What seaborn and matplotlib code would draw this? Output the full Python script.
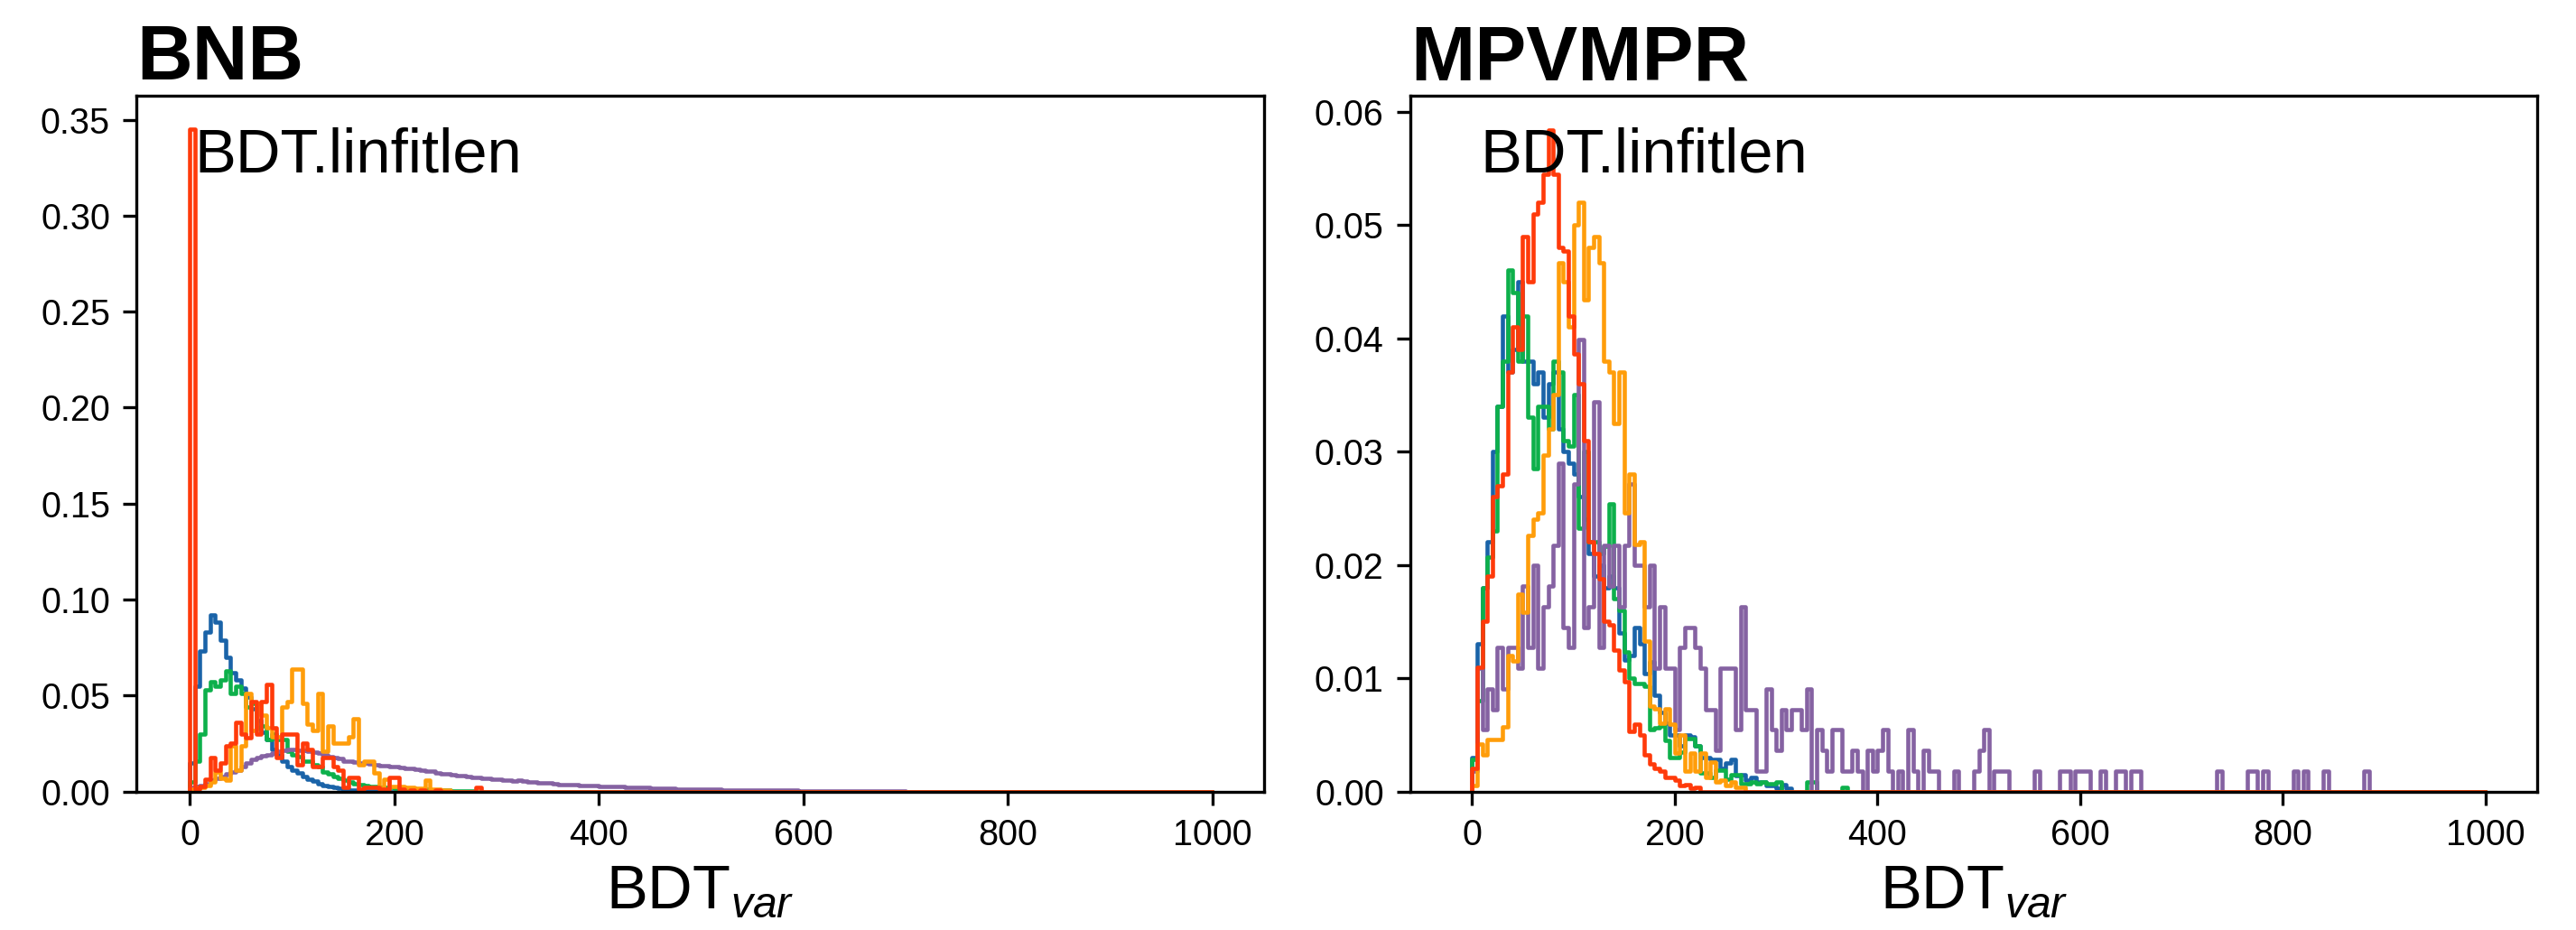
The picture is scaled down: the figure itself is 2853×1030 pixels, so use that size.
import numpy as np
import matplotlib
matplotlib.use("Agg")
import matplotlib.pyplot as plt
import seaborn as sns

# bin edges used by both panels (5-unit bins from 0 to 1000)
bin_width = 5
n_bins = 200

series_names = ["blue", "green", "purple", "orange", "red"]
colors = {"blue": "#1a63a8", "green": "#0db04b", "purple": "#8562a2",
          "orange": "#ff9d0a", "red": "#ff3a0a"}

# ---- BNB panel: fraction of entries per 5-unit bin, starting at 0 ----
bnb_blue = [0.015, 0.055, 0.073, 0.083, 0.092, 0.088, 0.079, 0.070, 0.062, 0.058,
            0.054, 0.049, 0.043, 0.037, 0.031, 0.027, 0.022, 0.019, 0.016, 0.013,
            0.011, 0.0095, 0.008, 0.0065, 0.0052, 0.0042, 0.0033, 0.0026, 0.002, 0.0015,
            0.0011, 0.0008, 0.0006, 0.0004, 0.0003, 0.0002, 0.0001]
bnb_green = [0.005, 0.016, 0.030, 0.053, 0.057, 0.055, 0.058, 0.063, 0.051, 0.055,
             0.051, 0.044, 0.046, 0.033, 0.034, 0.027, 0.030, 0.027, 0.027, 0.021,
             0.019, 0.018, 0.016, 0.016, 0.014, 0.013, 0.010, 0.009, 0.008, 0.007,
             0.006, 0.005, 0.004, 0.0035, 0.003, 0.0025, 0.0025, 0.002, 0.002, 0.002,
             0.0017, 0.0015, 0.0015, 0.0012, 0.0012, 0.001, 0.001, 0.0008, 0.0006, 0.0006,
             0.0005, 0.0004, 0.0004, 0.0003, 0.0003, 0.0002]
bnb_orange = [0.001, 0.0017, 0.002, 0.003, 0.005, 0.010, 0.007, 0.006, 0.024, 0.011,
              0.024, 0.051, 0.032, 0.046, 0.040, 0.033, 0.0285, 0.0285, 0.044, 0.047,
              0.064, 0.064, 0.046, 0.035, 0.032, 0.051, 0.021, 0.034, 0.025, 0.025,
              0.025, 0.0285, 0.038, 0.014, 0.016, 0.016, 0.0096, 0.0017, 0.0065, 0.0025,
              0.0025, 0.0025, 0.002, 0.002, 0.0017, 0.0017, 0.006, 0.001, 0.001, 0.0005,
              0.0005]
bnb_red = [0.345, 0.001, 0.0025, 0.0065, 0.0175, 0.011, 0.015, 0.024, 0.025, 0.036,
           0.030, 0.028, 0.047, 0.030, 0.047, 0.056, 0.033, 0.0175, 0.030, 0.030,
           0.030, 0.014, 0.025, 0.022, 0.013, 0.013, 0.0175, 0.0175, 0.013, 0.011,
           0.002, 0.0073, 0.0073, 0.001, 0.002, 0.002, 0.002, 0.001, 0.001, 0.0073,
           0.0073, 0.001, 0.0, 0.0005, 0.0, 0.0005, 0.0, 0.0, 0.0005, 0.0,
           0.0, 0.0, 0.0, 0.0, 0.0, 0.0, 0.002]
bnb_purple = [0.002, 0.0025, 0.003, 0.004, 0.006, 0.007, 0.008, 0.009, 0.010, 0.011,
              0.013, 0.015, 0.0165, 0.0175, 0.0185, 0.019, 0.020, 0.021, 0.0215, 0.022,
              0.022, 0.0215, 0.0215, 0.021, 0.0205, 0.020, 0.019, 0.018, 0.0175, 0.017,
              0.016, 0.0158, 0.0155, 0.015, 0.015, 0.0145, 0.014, 0.0135, 0.0135, 0.013,
              0.0128, 0.0125, 0.012, 0.0122, 0.0115, 0.011, 0.0108, 0.0105, 0.0098, 0.0094,
              0.009, 0.0085, 0.0084, 0.0082, 0.0078, 0.0075, 0.0072, 0.007, 0.0068, 0.0065,
              0.0062, 0.006, 0.0058, 0.0056, 0.0057, 0.0052, 0.005, 0.0048, 0.0046, 0.0045,
              0.0044, 0.0038, 0.0036, 0.0035, 0.0037, 0.0034, 0.0033, 0.0032, 0.003, 0.0029,
              0.0028, 0.0027, 0.0025, 0.0024, 0.0024, 0.0023, 0.0022, 0.0021, 0.002, 0.0019,
              0.0017, 0.0017, 0.0016, 0.0015, 0.0015, 0.0014, 0.0013, 0.0013, 0.0012, 0.0012,
              0.0011, 0.0011, 0.001, 0.001, 0.0009, 0.0009, 0.0009, 0.0008, 0.0008, 0.0008,
              0.0007, 0.0007, 0.0007, 0.0006, 0.0006, 0.0006, 0.0005, 0.0005, 0.0005, 0.0004,
              0.0004, 0.0004, 0.0003, 0.0003, 0.0003, 0.0003, 0.0002, 0.0002, 0.0002, 0.0002,
              0.0002, 0.0001, 0.0001, 0.0001, 0.0001, 0.0001, 0.0001, 0.0001, 0.0001, 0.0001]

# ---- MPVMPR panel ----
mpv_blue = [0.003, 0.013, 0.018, 0.022, 0.030, 0.034, 0.042, 0.037, 0.039, 0.045,
            0.038, 0.038, 0.036, 0.037, 0.033, 0.036, 0.037, 0.032, 0.030, 0.029,
            0.028, 0.026, 0.024, 0.021, 0.019, 0.020, 0.018, 0.019, 0.018, 0.014,
            0.0116, 0.012, 0.0145, 0.013, 0.0104, 0.0114, 0.0085, 0.007, 0.006, 0.005,
            0.005, 0.004, 0.005, 0.0048, 0.004, 0.003, 0.003, 0.0028, 0.0028, 0.002,
            0.0025, 0.0028, 0.0014, 0.0015, 0.001, 0.0012, 0.0008, 0.0008, 0.0005, 0.0005,
            0.0003, 0.0006, 0.0003]
mpv_green = [0.0028, 0.008, 0.018, 0.0207, 0.023, 0.034, 0.038, 0.046, 0.044, 0.038,
             0.042, 0.033, 0.0285, 0.034, 0.034, 0.032, 0.038, 0.037, 0.031, 0.0305,
             0.035, 0.0232, 0.030, 0.022, 0.022, 0.021, 0.0216, 0.0254, 0.017, 0.016,
             0.0123, 0.010, 0.0095, 0.0095, 0.0093, 0.0055, 0.0056, 0.0058, 0.0045, 0.003,
             0.003, 0.0035, 0.0047, 0.0047, 0.004, 0.0016, 0.0016, 0.0012, 0.0019, 0.0019,
             0.0011, 0.0015, 0.0015, 0.0007, 0.0007, 0.0008, 0.0007, 0.0008, 0.0007, 0.0007,
             0.0008, 0.0, 0.0, 0.0, 0.0, 0.0, 0.0008, 0.0008, 0.0, 0.0,
             0.0, 0.0, 0.0, 0.0004]
mpv_orange = [0.0005, 0.0042, 0.0032, 0.0046, 0.0046, 0.0046, 0.0057, 0.012, 0.0115, 0.0174,
              0.0158, 0.0226, 0.024, 0.0246, 0.0297, 0.032, 0.035, 0.0467, 0.045, 0.041,
              0.050, 0.052, 0.0434, 0.048, 0.049, 0.0467, 0.038, 0.037, 0.0325, 0.037,
              0.0246, 0.028, 0.0218, 0.022, 0.0133, 0.0075, 0.0073, 0.006, 0.0073, 0.0059,
              0.0034, 0.005, 0.0018, 0.0034, 0.0018, 0.0034, 0.0012, 0.0026, 0.0008, 0.001,
              0.0005, 0.0008, 0.0004, 0.0004]
mpv_red = [0.002, 0.011, 0.015, 0.019, 0.026, 0.027, 0.028, 0.037, 0.041, 0.039,
           0.049, 0.045, 0.051, 0.052, 0.0545, 0.0584, 0.0545, 0.048, 0.0477, 0.042,
           0.0386, 0.036, 0.031, 0.022, 0.021, 0.0188, 0.015, 0.0147, 0.0125, 0.0107,
           0.0097, 0.0053, 0.0059, 0.005, 0.0032, 0.0024, 0.002, 0.0018, 0.0012, 0.0012,
           0.001, 0.0005, 0.0006, 0.0003, 0.0004]
# purple MPVMPR sample is small: raw entries per bin, normalised below
mpv_purple_counts = [1, 6, 3, 5, 4, 7, 5, 7, 7, 6,
                     10, 7, 11, 6, 9, 10, 12, 16, 8, 7,
                     15, 22, 8, 9, 19, 7, 12, 10, 12, 9,
                     12, 15, 11, 11, 9, 11, 6, 9, 6, 6,
                     3, 7, 8, 8, 7, 6, 4, 4, 2, 6,
                     6, 6, 3, 9, 4, 4, 1, 1, 5, 3,
                     2, 4, 3, 4, 4, 3, 5, 0, 3, 2,
                     1, 3, 3, 1, 1, 2, 1, 0, 2, 1,
                     2, 3, 1, 0, 1, 0, 3, 1, 0, 2,
                     1, 1, 0, 0, 0, 1, 0, 0, 0, 1,
                     2, 3, 0, 1, 1, 1, 0, 0, 0, 0,
                     0, 1, 0, 0, 0, 0, 1, 1, 0, 1,
                     1, 1, 0, 0, 1, 0, 0, 1, 1, 0,
                     1, 1, 0, 0, 0, 0, 0, 0, 0, 0,
                     0, 0, 0, 0, 0, 0, 0, 1, 0, 0,
                     0, 0, 0, 1, 1, 0, 1, 0, 0, 0,
                     0, 0, 1, 0, 1, 0, 0, 0, 1, 0,
                     0, 0, 0, 0, 0, 0, 1]
mpv_purple = list(np.array(mpv_purple_counts) / np.sum(mpv_purple_counts))

panels = [
    ("BNB", {"blue": bnb_blue, "green": bnb_green, "purple": bnb_purple,
             "orange": bnb_orange, "red": bnb_red}),
    ("MPVMPR", {"blue": mpv_blue, "green": mpv_green, "purple": mpv_purple,
                "orange": mpv_orange, "red": mpv_red}),
]

sns.set_style("ticks")
plt.rcParams["font.family"] = ["Liberation Sans", "DejaVu Sans"]
plt.rcParams["mathtext.fontset"] = "custom"
plt.rcParams["mathtext.rm"] = "Liberation Sans"
plt.rcParams["mathtext.it"] = "Liberation Sans:italic"
for key in ["text.color", "axes.labelcolor", "xtick.color", "ytick.color", "axes.edgecolor"]:
    plt.rcParams[key] = "black"

edges = [-0.5] + list(np.arange(0, n_bins * bin_width + 1, bin_width))
centers = np.arange(n_bins) * bin_width + bin_width / 2

fig, axes = plt.subplots(1, 2, figsize=(2853 / 300, 1030 / 300), dpi=300)
fig.subplots_adjust(left=0.053, right=0.985, top=0.897, bottom=0.149, wspace=0.13)

for ax, (title, data) in zip(axes, panels):
    for name in series_names:
        heights = np.zeros(n_bins)
        vals = data[name]
        heights[:len(vals)] = vals
        sns.histplot(x=centers, weights=heights, bins=edges, element="step",
                     fill=False, color=colors[name], linewidth=1.1, ax=ax)
    ax.set_title(title, loc="left", fontsize=20.5, fontweight="bold", pad=3)
    ax.set_xlabel("BDT$_{var}$", fontsize=16.5, labelpad=3)
    ax.set_ylabel("")
    ax.set_xticks([0, 200, 400, 600, 800, 1000])
    ax.tick_params(labelsize=9.5)

axes[0].set_xlim(-52, 1050)
axes[0].set_ylim(0, 0.3625)
axes[0].set_yticks(np.arange(0, 0.36, 0.05))
axes[0].yaxis.set_major_formatter(matplotlib.ticker.FormatStrFormatter("%.2f"))
axes[0].text(0.051, 0.955, "BDT.linfitlen", transform=axes[0].transAxes,
             fontsize=16.5, va="top", ha="left")

axes[1].set_xlim(-61, 1051)
axes[1].set_ylim(0, 0.0614)
axes[1].set_yticks(np.arange(0, 0.061, 0.01))
axes[1].yaxis.set_major_formatter(matplotlib.ticker.FormatStrFormatter("%.2f"))
axes[1].text(0.062, 0.955, "BDT.linfitlen", transform=axes[1].transAxes,
             fontsize=16.5, va="top", ha="left")

fig.savefig("out.png", dpi=300)
